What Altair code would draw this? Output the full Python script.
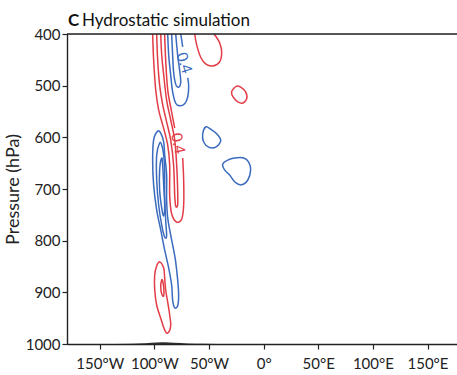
import altair as alt
import pandas as pd

RED = "#e23c47"
BLUE = "#3a6bbf"
FONT = "Lato"
INK = "#222222"

# Contour paths of the hydrostatic run: (longitude in deg E, pressure in hPa)
# Positive anomaly (red)
red_outer_a = ([-101.6, -100.7, -98.8, -96.1, -92.4, -87.8, -86.0, -86.0, -84.2, -79.6, -75.0, -73.2, -73.2, -74.1],
               [400, 450, 508, 547, 576, 615, 654, 712, 748, 764, 758, 731, 683, 640])
red_outer_b = ([-81.4, -84.2, -87.8, -89.7, -90.6],
               [582, 551, 508, 450, 400])
red_inner = ([-97.9, -97.0, -95.2, -92.4, -88.8, -85.1, -82.4, -81.4, -80.5, -78.7, -78.7, -79.6, -81.4, -85.1, -88.8, -91.5, -93.3, -94.2],
             [400, 450, 499, 537, 570, 605, 654, 712, 733, 731, 702, 654, 605, 566, 528, 479, 441, 400])
red_cap = ([-63.1, -61.3, -57.6, -53.1, -46.7, -40.3, -38.4, -40.3, -43.9, -45.8],
           [400, 421, 445, 458, 462, 454, 435, 417, 404, 400])
red_low_outer = ([-95.2, -97.9, -99.7, -99.7, -97.9, -94.2, -90.6, -87.8, -85.1, -86.0, -87.8, -89.7, -90.6, -91.5],
                 [841, 849, 866, 895, 925, 950, 973, 979, 965, 944, 919, 895, 872, 853])
red_low_inner = ([-93.3, -94.2, -93.3, -91.5, -91.5, -92.4],
                 [876, 888, 903, 907, 890, 878])
red_small = ([-24.7, -29.3, -26.5, -20.1, -15.6, -16.5, -21.0],
             [501, 512, 526, 534, 526, 512, 503])

# Negative anomaly (blue)
blue_top_a = ([-87.8, -86.9, -85.1, -83.3, -80.5, -76.9, -72.3, -69.5, -68.6, -69.5],
              [400, 441, 479, 512, 534, 539, 535, 522, 501, 485])
blue_top_b = ([-74.1, -75.0, -75.9],
              [425, 412, 400])
blue_top_inner = ([-84.2, -83.3, -82.4, -80.5, -77.8, -75.9, -76.9, -78.7, -80.5],
                  [400, 441, 474, 497, 503, 493, 470, 441, 400])
blue_mid_1 = ([-97.0, -100.7, -101.6, -100.7, -97.9, -94.2, -90.6, -86.9, -84.2, -83.3, -81.4, -78.7, -77.8, -78.7, -80.5, -82.4, -85.1, -87.8, -88.8, -88.8, -90.6, -91.5, -94.2],
              [588, 605, 644, 692, 741, 779, 818, 853, 886, 915, 930, 926, 905, 876, 841, 818, 789, 756, 721, 673, 634, 609, 592])
blue_mid_2 = ([-95.2, -97.9, -97.9, -96.1, -93.3, -90.6, -88.8, -89.7, -90.6, -90.6, -91.5, -93.3],
              [611, 634, 683, 731, 770, 793, 791, 760, 712, 663, 634, 615])
blue_mid_3 = ([-93.3, -95.2, -95.2, -93.3, -91.5, -90.6, -91.5, -92.4],
              [640, 663, 702, 737, 752, 733, 692, 654])
blue_loop_a = ([-53.1, -55.8, -54.9, -50.3, -43.9, -39.3, -42.1, -48.5],
               [580, 594, 609, 619, 619, 607, 595, 584])
blue_loop_b = ([-37.5, -32.9, -26.5, -18.3, -13.7, -11.9, -14.6, -21.0, -26.5, -31.1, -35.7],
               [652, 644, 640, 640, 648, 663, 683, 692, 686, 673, 663])

# Surface terrain along the section
terrain_lon = [-150, -120, -108, -98, -90, -82, -70, -55, -30]
terrain_p = [1000, 999.6, 998.6, 997.2, 996.6, 997.4, 998.8, 999.6, 1000]

# Contour value labels
label_lon = [-72.6, -78.4]
label_p = [456, 612]
label_text = ["0.4", "0.4"]
label_sign = ["neg", "pos"]
label_angle = [72, 78]

LON_TICKS = [-150, -100, -50, 0, 50, 100, 150]
P_TICKS = [400, 500, 600, 700, 800, 900, 1000]

contours = [
    ("red_outer_a", red_outer_a, "pos", False),
    ("red_outer_b", red_outer_b, "pos", False),
    ("red_inner", red_inner, "pos", False),
    ("red_cap", red_cap, "pos", False),
    ("red_low_outer", red_low_outer, "pos", True),
    ("red_low_inner", red_low_inner, "pos", True),
    ("red_small", red_small, "pos", True),
    ("blue_top_a", blue_top_a, "neg", False),
    ("blue_top_b", blue_top_b, "neg", False),
    ("blue_top_inner", blue_top_inner, "neg", False),
    ("blue_mid_1", blue_mid_1, "neg", True),
    ("blue_mid_2", blue_mid_2, "neg", True),
    ("blue_mid_3", blue_mid_3, "neg", True),
    ("blue_loop_a", blue_loop_a, "neg", True),
    ("blue_loop_b", blue_loop_b, "neg", True),
]

rows = []
for name, (lons, ps), sign, closed in contours:
    for i, (lo, p) in enumerate(zip(lons, ps)):
        rows.append({"id": name, "lon": lo, "p": p, "sign": sign, "closed": closed, "i": i})
df = pd.DataFrame(rows)

terrain = pd.DataFrame({"lon": terrain_lon, "p": terrain_p})
labels = pd.DataFrame({"lon": label_lon, "p": label_p, "text": label_text,
                       "sign": label_sign, "angle": label_angle})

x_scale = alt.Scale(domain=[-180, 177], nice=False, zero=False)
y_scale = alt.Scale(domain=[400, 1000], reverse=True, nice=False, zero=False)
color = alt.Color("sign:N", scale=alt.Scale(domain=["pos", "neg"], range=[RED, BLUE]), legend=None)

x_axis = alt.Axis(
    values=LON_TICKS, title=None, grid=False,
    labelExpr="datum.value == 0 ? '0°' : (datum.value < 0 ? (-datum.value) + '°W' : datum.value + '°E')",
    labelFont=FONT, labelFontSize=15, labelColor=INK, labelPadding=7,
    tickSize=5, tickColor=INK, domainColor=INK, domainWidth=1.4, tickWidth=1.2,
)
y_axis = alt.Axis(
    values=P_TICKS, title="Pressure (hPa)", grid=False, format="d",
    labelFont=FONT, labelFontSize=15, labelColor=INK, labelPadding=2,
    titleFont=FONT, titleFontSize=18, titleFontWeight="normal", titleColor=INK, titlePadding=3,
    tickSize=5, tickColor=INK, domainColor=INK, domainWidth=1.4, tickWidth=1.2,
)

base = alt.Chart(df).encode(
    x=alt.X("lon:Q", scale=x_scale, axis=x_axis),
    y=alt.Y("p:Q", scale=y_scale, axis=y_axis),
    color=color,
    detail="id:N",
    order="i:Q",
)

open_lines = base.transform_filter("!datum.closed").mark_line(
    interpolate="cardinal", strokeWidth=1.5, clip=True)
closed_lines = base.transform_filter("datum.closed").mark_line(
    interpolate="cardinal-closed", strokeWidth=1.5, clip=True)

ground = alt.Chart(terrain).mark_area(color="#111111", opacity=0.85, interpolate="monotone").encode(
    x=alt.X("lon:Q", scale=x_scale),
    y=alt.Y("p:Q", scale=y_scale),
    y2=alt.datum(1000),
)

value_labels = alt.Chart(labels).mark_text(font=FONT, fontSize=15).encode(
    x=alt.X("lon:Q", scale=x_scale),
    y=alt.Y("p:Q", scale=y_scale),
    text="text:N",
    angle=alt.Angle("angle:Q", scale=None),
    color=color,
)

top_frame = alt.Chart(pd.DataFrame({"p": [400]})).mark_rule(color=INK, strokeWidth=1.4).encode(
    y=alt.Y("p:Q", scale=y_scale)
)

# Panel heading: bold letter followed by the run name
heading = pd.DataFrame({
    "t": ["C", "Hydrostatic simulation"],
    "w": ["bold", "normal"],
})
panel_letter = alt.Chart(heading).transform_filter("datum.w == 'bold'").mark_text(
    font=FONT, fontSize=17, fontWeight="bold", align="left", baseline="alphabetic", color="#111111"
).encode(x=alt.value(1), y=alt.value(-8), text="t:N")
panel_title = alt.Chart(heading).transform_filter("datum.w == 'normal'").mark_text(
    font=FONT, fontSize=17, align="left", baseline="alphabetic", color="#111111"
).encode(x=alt.value(15), y=alt.value(-8), text="t:N")

chart = alt.layer(
    open_lines, closed_lines, ground, value_labels, top_frame, panel_letter, panel_title
).properties(
    width=390,
    height=310,
    autosize=alt.AutoSizeParams(type="none"),
    padding={"left": 67, "top": 34, "right": 0, "bottom": 31},
).configure_view(stroke=None).configure(background="white")

chart.save("out.html", embed_options={"renderer": "svg", "actions": False})
